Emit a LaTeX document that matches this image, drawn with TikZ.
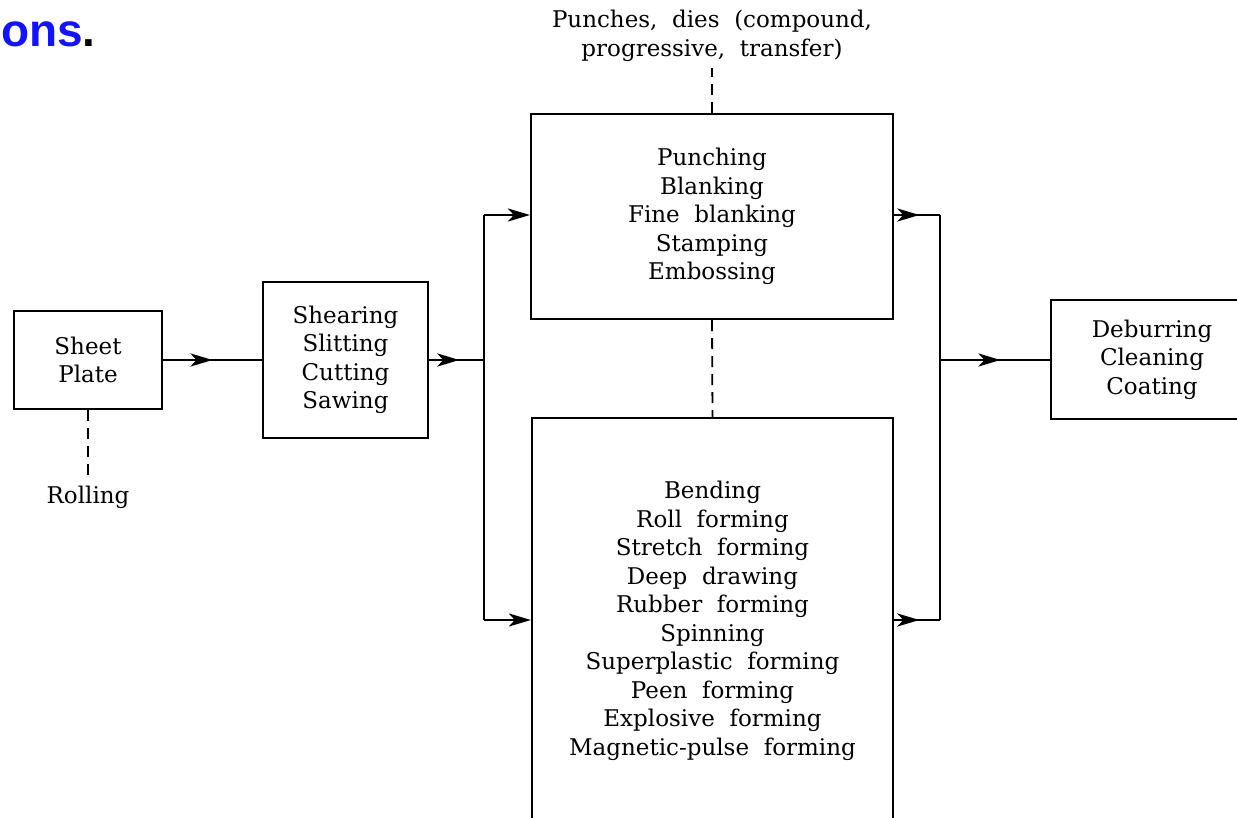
\documentclass[tikz,border=0pt]{standalone}
\usepackage{fontspec}
\setmainfont{DejaVu Serif}
\newfontfamily\headfont{Liberation Sans}
\usetikzlibrary{arrows.meta,decorations.markings}
\definecolor{headblue}{RGB}{20,20,240}
\tikzset{
  txt/.style={font=\fontsize{23}{28.5}\selectfont, align=center, inner sep=0pt},
  procbox/.style={draw, line width=2.2pt, txt},
  conn/.style={line width=2.8pt},
  tipstyle/.style={-{Stealth[length=22pt,width=13pt,inset=6pt]}},
  midarrow/.style={conn, postaction={decorate}, decoration={markings,
      mark=at position #1 with {\arrow{Stealth[length=22pt,width=13pt,inset=6pt]}}}},
  dashline/.style={line width=1.8pt, dash pattern=on 11pt off 7pt},
}
\begin{document}
\begin{tikzpicture}[x=1pt,y=-1pt]
\useasboundingbox (0,0) rectangle (1237,818);
\clip (0,0) rectangle (1237,818);
% partial heading
\node[anchor=base west, inner sep=0pt, font=\headfont\bfseries\fontsize{46}{50}\selectfont] (head) at (1,47) {\textcolor{headblue}{ons}.};
% boxes
\node[procbox, minimum width=148pt, minimum height=98pt] (sheet) at (88,360) {Sheet\\Plate};
\node[txt] (rolling) at (88,497) {Rolling};
\node[procbox, minimum width=165pt, minimum height=156pt] (shear) at (345.5,360) {Shearing\\Slitting\\Cutting\\Sawing};
\node[procbox, minimum width=362pt, minimum height=205pt] (punch) at (712,216.5) {Punching\\Blanking\\Fine\ \ blanking\\Stamping\\Embossing};
\node[procbox, minimum width=361pt, minimum height=406pt] (form) at (712.5,621) {Bending\\Roll\ \ forming\\Stretch\ \ forming\\Deep\ \ drawing\\Rubber\ \ forming\\Spinning\\Superplastic\ \ forming\\Peen\ \ forming\\Explosive\ \ forming\\Magnetic-pulse\ \ forming};
\node[procbox, minimum width=202pt, minimum height=119pt] (deburr) at (1152,359.5) {Deburring\\Cleaning\\Coating};
\node[txt] (tools) at (712,36) {Punches,\ \ dies\ \ (compound,\\progressive,\ \ transfer)};
% junction coordinates
\coordinate (ja) at (484,360);
\coordinate (jt) at (484,215);
\coordinate (jb) at (484,620);
\coordinate (kt) at (940,215);
\coordinate (kb) at (940,620);
\coordinate (km) at (940,360);
\coordinate (toolend) at (712,68);
\coordinate (rollend) at (88,481);
% connectors
\draw[midarrow=0.5] (sheet.east) -- (ja -| shear.west);
\draw[midarrow=0.55] (shear.east) -- (ja);
\draw[conn] (jt) -- (jb);
\draw[conn, tipstyle] (jt) -- (jt -| punch.west);
\draw[conn, tipstyle] (jb) -- (jb -| form.west);
\draw[midarrow=0.55] (kt -| punch.east) -- (kt);
\draw[midarrow=0.55] (kb -| form.east) -- (kb);
\draw[conn] (kt) -- (kb);
\draw[midarrow=0.55] (km) -- (km -| deburr.west);
% dashed links
\draw[dashline] (sheet.south) -- (rollend);
\draw[dashline] (punch.south) -- (form.north);
\draw[dashline] (punch.north) -- (toolend);
\end{tikzpicture}
\end{document}
